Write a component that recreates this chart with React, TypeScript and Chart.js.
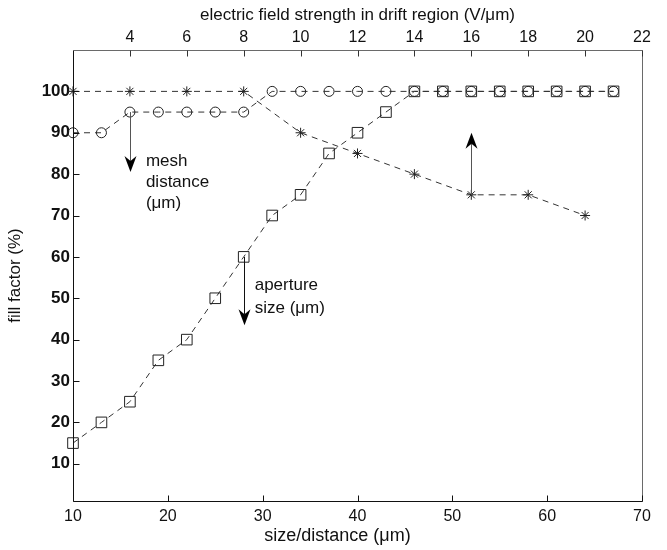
import React, { useEffect, useRef } from 'react';
import { Chart, registerables } from 'chart.js';

Chart.register(...registerables);

// ---- data ----
const fieldStrength = [2, 4, 6, 8, 10, 12, 14, 16, 18, 20];
const fillVsField = [100, 100, 100, 100, 90, 85, 80, 75, 75, 70];

const meshDistance = [10, 13, 16, 19, 22, 25, 28, 31, 34, 37, 40, 43, 46, 49, 52, 55, 58, 61, 64, 67];
const fillVsMesh = [90, 90, 95, 95, 95, 95, 95, 100, 100, 100, 100, 100, 100, 100, 100, 100, 100, 100, 100, 100];

const apertureSize = [10, 13, 16, 19, 22, 25, 28, 31, 34, 37, 40, 43, 46, 49, 52, 55, 58, 61, 64, 67];
const fillVsAperture = [15, 20, 25, 35, 40, 50, 60, 70, 75, 85, 90, 95, 100, 100, 100, 100, 100, 100, 100, 100];

const yTicks = [10, 20, 30, 40, 50, 60, 70, 80, 90, 100];
const bottomTicks = [10, 20, 30, 40, 50, 60, 70];
const topTicks = [4, 6, 8, 10, 12, 14, 16, 18, 20, 22];

const bottomTitle = 'size/distance (μm)';

// annotation arrows (bottom-axis x, fill factor from -> to)
const arrowX = [16, 28, 52];
const arrowFrom = [95, 60, 75];
const arrowTo = [80.5, 43.5, 90];

// annotation notes
const noteX = [16, 28];
const noteLines = [
  ['mesh', 'distance', '(μm)'],
  ['aperture', 'size (μm)'],
];
const noteY = [
  [83, 78, 73],
  [53.2, 47.6],
];

const FONT = "'Liberation Sans', Arial, Helvetica, sans-serif";

const framePlugin = {
  id: 'frame',
  afterDatasetsDraw(chart: any) {
    const { ctx, chartArea } = chart;
    const x = chart.scales.x;
    const x2 = chart.scales.x2;
    const y = chart.scales.y;
    const L = Math.floor(chartArea.left) + 0.5;
    const R = Math.floor(chartArea.right) + 0.5;
    const T = Math.floor(chartArea.top) + 0.5;
    const B = Math.floor(chartArea.bottom) + 0.5;
    ctx.save();
    ctx.lineWidth = 1;
    ctx.setLineDash([]);
    // top & right border
    ctx.strokeStyle = '#6a6a6a';
    ctx.beginPath();
    ctx.moveTo(L, T);
    ctx.lineTo(R, T);
    ctx.lineTo(R, B);
    ctx.stroke();
    // left & bottom border
    ctx.strokeStyle = '#111';
    ctx.beginPath();
    ctx.moveTo(L, T);
    ctx.lineTo(L, B);
    ctx.lineTo(R, B);
    ctx.stroke();
    const tl = 6;
    // y ticks (inward)
    ctx.strokeStyle = '#111';
    ctx.beginPath();
    yTicks.forEach((v) => {
      const py = Math.round(y.getPixelForValue(v)) + 0.5;
      ctx.moveTo(L, py);
      ctx.lineTo(L + tl, py);
    });
    bottomTicks.forEach((v) => {
      const px = Math.round(x.getPixelForValue(v)) + 0.5;
      ctx.moveTo(px, B);
      ctx.lineTo(px, B - tl);
    });
    ctx.stroke();
    ctx.strokeStyle = '#333';
    ctx.beginPath();
    topTicks.forEach((v) => {
      const px = Math.round(x2.getPixelForValue(v)) + 0.5;
      ctx.moveTo(px, T);
      ctx.lineTo(px, T + tl);
    });
    ctx.stroke();

    // arrows
    arrowX.forEach((ax, i) => {
      const px = Math.round(x.getPixelForValue(ax)) + 0.5;
      const y0 = y.getPixelForValue(arrowFrom[i]);
      const y1 = y.getPixelForValue(arrowTo[i]);
      const dir = y1 > y0 ? 1 : -1;
      const headLen = 16;
      const headW = 6;
      const notch = 11;
      ctx.strokeStyle = i === 1 ? '#111' : '#555';
      ctx.beginPath();
      ctx.moveTo(px, y0);
      ctx.lineTo(px, y1 - dir * notch);
      ctx.stroke();
      ctx.fillStyle = '#000';
      ctx.beginPath();
      ctx.moveTo(px, y1);
      ctx.lineTo(px - headW, y1 - dir * headLen);
      ctx.lineTo(px, y1 - dir * notch);
      ctx.lineTo(px + headW, y1 - dir * headLen);
      ctx.closePath();
      ctx.fill();
    });

    // notes
    ctx.fillStyle = '#111';
    ctx.font = `17px ${FONT}`;
    ctx.textAlign = 'left';
    ctx.textBaseline = 'middle';
    const offsets = [16, 11];
    noteX.forEach((nx, i) => {
      const px = x.getPixelForValue(nx) + offsets[i];
      noteLines[i].forEach((t, j) => {
        ctx.fillText(t, px, y.getPixelForValue(noteY[i][j]));
      });
    });

    // bottom axis title
    ctx.font = `18px ${FONT}`;
    ctx.textAlign = 'center';
    ctx.fillText(bottomTitle, (chartArea.left + chartArea.right) / 2 - 20, chartArea.bottom + 35);
    ctx.restore();
  },
};

export default function App() {
  const ref = useRef<HTMLCanvasElement | null>(null);
  useEffect(() => {
    if (!ref.current) return;
    const lineStyle = {
      borderColor: '#333',
      borderWidth: 1,
      borderDash: [6, 5],
      pointBorderColor: '#222',
      pointBackgroundColor: 'rgba(0,0,0,0)',
      pointBorderWidth: 1,
      tension: 0,
      fill: false,
      clip: false as any,
    };
    const chart = new Chart(ref.current, {
      type: 'line',
      data: {
        datasets: [
          {
            label: 'field strength',
            xAxisID: 'x2',
            yAxisID: 'y',
            data: fieldStrength.map((v, i) => ({ x: v, y: fillVsField[i] })),
            pointStyle: 'star',
            pointRadius: 5,
            ...lineStyle,
          },
          {
            label: 'mesh distance',
            xAxisID: 'x',
            yAxisID: 'y',
            data: meshDistance.map((v, i) => ({ x: v, y: fillVsMesh[i] })),
            pointStyle: 'circle',
            pointRadius: 5,
            ...lineStyle,
          },
          {
            label: 'aperture size',
            xAxisID: 'x',
            yAxisID: 'y',
            data: apertureSize.map((v, i) => ({ x: v, y: fillVsAperture[i] })),
            pointStyle: 'rect',
            pointRadius: 7.5,
            ...lineStyle,
          },
        ],
      },
      options: {
        animation: false,
        responsive: false,
        maintainAspectRatio: false,
        devicePixelRatio: 1,
        layout: { padding: { left: 0, top: 0, right: 25, bottom: 0 } },
        plugins: { legend: { display: false }, tooltip: { enabled: false } },
        scales: {
          x: {
            type: 'linear',
            position: 'bottom',
            min: 10,
            max: 70,
            afterBuildTicks: (s: any) => {
              s.ticks = bottomTicks.map((v) => ({ value: v }));
            },
            afterFit: (s: any) => {
              s.height = 49;
            },
            grid: { display: false, drawTicks: false },
            border: { display: false },
            ticks: { color: '#111', font: { family: FONT, size: 16 }, padding: 6, maxRotation: 0, autoSkip: false },
            title: { display: false },
          },
          x2: {
            type: 'linear',
            position: 'top',
            min: 2,
            max: 22,
            afterBuildTicks: (s: any) => {
              s.ticks = topTicks.map((v) => ({ value: v }));
            },
            afterFit: (s: any) => {
              s.height = 50;
            },
            grid: { display: false, drawTicks: false },
            border: { display: false },
            ticks: { color: '#111', font: { family: FONT, size: 16 }, padding: 3, maxRotation: 0, autoSkip: false },
            title: {
              display: true,
              text: 'electric field strength in drift region (V/μm)',
              color: '#111',
              font: { family: FONT, size: 17 },
              padding: { top: 5, bottom: 0 },
            },
          },
          y: {
            type: 'linear',
            position: 'left',
            min: 1,
            max: 110,
            afterBuildTicks: (s: any) => {
              s.ticks = yTicks.map((v) => ({ value: v }));
            },
            afterFit: (s: any) => {
              s.width = 73;
            },
            grid: { display: false, drawTicks: false },
            border: { display: false },
            ticks: { color: '#111', font: { family: FONT, size: 17, weight: 'bold' }, padding: 3, autoSkip: false },
            title: {
              display: true,
              text: 'fill factor (%)',
              color: '#111',
              font: { family: FONT, size: 17 },
              padding: { top: 5, bottom: 0 },
            },
          },
        },
      },
      plugins: [framePlugin],
    });
    return () => chart.destroy();
  }, []);
  return (
    <div style={{ position: 'absolute', left: 0, top: 0, width: 667, height: 550 }}>
      <canvas ref={ref} width={667} height={550} style={{ display: 'block' }} />
    </div>
  );
}
